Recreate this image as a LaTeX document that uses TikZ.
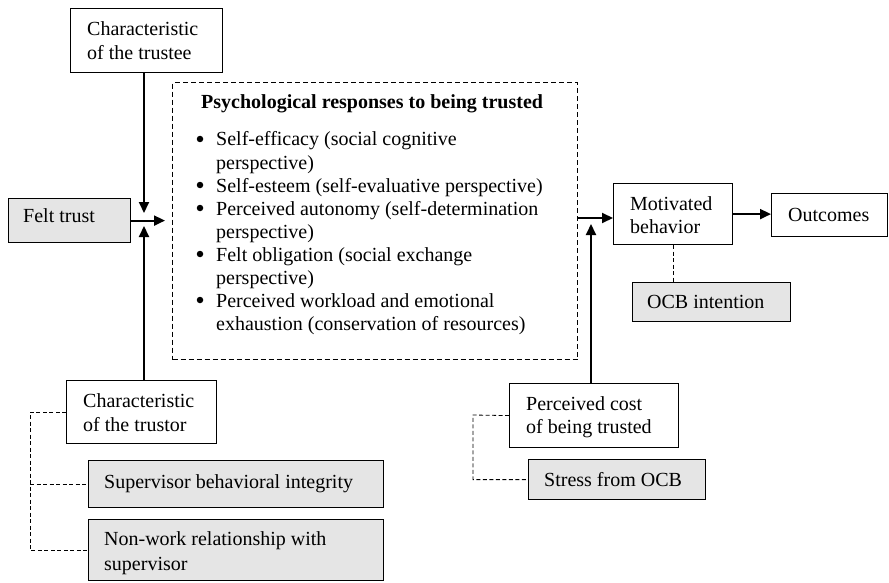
\documentclass[tikz,border=0pt]{standalone}
\usepackage{fontspec}
\setmainfont{Liberation Serif}
\usetikzlibrary{arrows.meta}
\tikzset{
  box/.style={draw=black, line width=1.2pt, rectangle, inner sep=0pt, anchor=north west},
  gbox/.style={box, fill=black!10},
  dbox/.style={draw=black, line width=1.2pt, dash pattern=on 5pt off 3pt, rectangle, inner sep=0pt, anchor=north west},
  txt/.style={anchor=base west, inner sep=0pt, font=\fontsize{20}{24}\selectfont},
  arr/.style={line width=2pt, -{Triangle[length=11pt,width=10pt]}},
  tree/.style={line width=0.8pt, dash pattern=on 4pt off 2.5pt},
  bul/.style={circle, fill=black, inner sep=0pt, minimum size=6.5pt}
}
\begin{document}
\begin{tikzpicture}[x=1pt,y=-1pt]
\useasboundingbox (0,0) rectangle (889,583);
% boxes
\node[box, minimum width=152pt, minimum height=64pt] (trustee) at (70,8) {};
\node[gbox, minimum width=122pt, minimum height=44pt] (felt) at (8,198) {};
\node[dbox, minimum width=405pt, minimum height=277pt] (psy) at (172,82) {};
\node[box, minimum width=150pt, minimum height=63pt] (trustor) at (66,380) {};
\node[gbox, minimum width=295pt, minimum height=47pt] (sbi) at (88,460) {};
\node[gbox, minimum width=295pt, minimum height=61pt] (nonwork) at (88,519) {};
\node[box, minimum width=119pt, minimum height=61pt] (motiv) at (613,183) {};
\node[box, minimum width=116pt, minimum height=43pt] (outc) at (771,193) {};
\node[gbox, minimum width=158pt, minimum height=39pt] (ocb) at (632,282) {};
\node[box, minimum width=169pt, minimum height=64pt] (cost) at (509,383) {};
\node[gbox, minimum width=177pt, minimum height=40pt] (stress) at (528,459) {};
% texts
\node[txt] (t1a) at (87,36) {Characteristic};
\node[txt] (t1b) at (87,60) {of the trustee};
\node[txt] (t2) at (23,222) {Felt trust};
\node[txt] (t3a) at (83,407) {Characteristic};
\node[txt] (t3b) at (83,431) {of the trustor};
\node[txt] (t4) at (104,488) {Supervisor behavioral integrity};
\node[txt] (t5a) at (104,545) {Non-work relationship with};
\node[txt] (t5b) at (104,570) {supervisor};
\node[txt] (t6a) at (630,210) {Motivated};
\node[txt] (t6b) at (630,233) {behavior};
\node[txt] (t7) at (788,221) {Outcomes};
\node[txt] (t8) at (647,308) {OCB intention};
\node[txt] (t9a) at (526,410) {Perceived cost};
\node[txt] (t9b) at (526,433) {of being trusted};
\node[txt] (t10) at (544,486) {Stress from OCB};
% psychological responses
\node[txt, font=\fontsize{20}{24}\selectfont\bfseries] (ptitle) at (201,109) {Psychological responses to being trusted};
\foreach \yy/\bb/\tx [count=\i] in {
  146/1/{Self-efficacy (social cognitive},
  169/0/{perspective)},
  192/1/{Self-esteem (self-evaluative perspective)},
  215/1/{Perceived autonomy (self-determination},
  238/0/{perspective)},
  261/1/{Felt obligation (social exchange},
  284/0/{perspective)},
  307/1/{Perceived workload and emotional},
  330/0/{exhaustion (conservation of resources)}}{
  \node[txt] (pl\i) at (216,\yy) {\tx};
  \ifnum\bb=1 \node[bul] (pb\i) at (200,\yy-7) {};\fi
}
% connectors
\coordinate (jt) at (144,213);
\coordinate (jb) at (144,226);
\coordinate (jm) at (591,218);
\coordinate (jc) at (591,224);
\draw[arr, shorten >=7pt] (felt.east) -- (felt.east -| psy.west);
\draw[arr] (jt |- trustee.south) -- (jt);
\draw[arr] (jb |- trustor.north) -- (jb);
\draw[arr] (psy.east |- jm) -- (motiv.west |- jm);
\draw[arr] (jc |- cost.north) -- (jc);
\draw[arr] (motiv.east) -- (outc.west |- motiv.east);
\draw[tree] (motiv.south) -- (motiv.south |- ocb.north);
\coordinate (tl) at (30,412);
\draw[tree] (trustor.west |- tl) -- (tl) |- (nonwork.west);
\draw[tree] (tl |- sbi.west) -- (sbi.west);
\coordinate (cl) at (473,415);
\draw[tree] (cost.west) -- (cl) |- (stress.west);
\end{tikzpicture}
\end{document}
